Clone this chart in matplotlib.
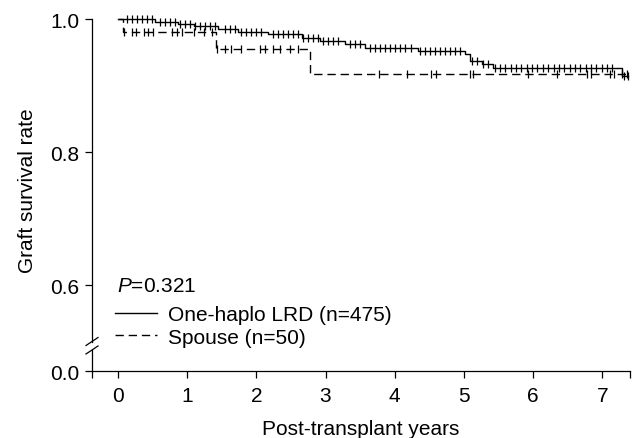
import numpy as np
import matplotlib
matplotlib.use("Agg")
import matplotlib.pyplot as plt

plt.rcParams['font.family'] = ['Liberation Sans', 'DejaVu Sans']
plt.rcParams['mathtext.fontset'] = 'custom'
plt.rcParams['mathtext.it'] = 'Liberation Sans:italic'
plt.rcParams['mathtext.rm'] = 'Liberation Sans'

# One-haplo LRD (n=475): event times (years) and survival after each event
lrd_event_t = [0.53, 0.87, 1.10, 1.45, 1.73, 2.17, 2.66, 2.92, 3.28, 3.57, 4.34, 5.01, 5.09, 5.26, 5.42, 7.28]
lrd_event_s = [0.996, 0.992, 0.989, 0.985, 0.980, 0.977, 0.971, 0.967, 0.962, 0.956, 0.952, 0.947, 0.937, 0.932, 0.927, 0.915]
lrd_end = 7.37
lrd_censor = [0.13, 0.20, 0.27, 0.35, 0.42, 0.49, 0.61, 0.68, 0.75, 0.82, 0.90, 0.97, 1.04, 1.11, 1.18,
              1.26, 1.33, 1.40, 1.55, 1.62, 1.69, 1.78, 1.85, 1.92, 1.99, 2.07, 2.24, 2.31, 2.38, 2.46,
              2.53, 2.60, 2.67, 2.75, 2.82, 2.89, 2.96, 3.03, 3.11, 3.18, 3.35, 3.42, 3.50, 3.64, 3.71,
              3.79, 3.86, 3.93, 4.00, 4.08, 4.15, 4.23, 4.36, 4.44, 4.51, 4.58, 4.65, 4.73, 4.80, 4.87,
              4.94, 5.12, 5.19, 5.27, 5.35, 5.45, 5.52, 5.59, 5.68, 5.75, 5.82, 5.91, 5.98, 6.05, 6.14,
              6.21, 6.30, 6.37, 6.45, 6.53, 6.60, 6.68, 6.76, 6.84, 6.91, 6.99, 7.07, 7.14, 7.31, 7.37]

# Spouse (n=50)
sp_event_t = [0.08, 1.42, 2.77]
sp_event_s = [0.980, 0.955, 0.917]
sp_end = 7.36
sp_censor = [0.09, 0.20, 0.26, 0.38, 0.43, 0.51, 0.78, 0.85, 0.92, 1.10, 1.24, 1.36,
             1.43, 1.55, 1.63, 1.78, 2.05, 2.12, 2.24, 2.34, 2.49, 2.60,
             3.77, 4.18, 4.52, 4.60, 5.09, 5.13, 5.92, 6.34, 6.78, 6.84, 7.11, 7.17, 7.28, 7.36]

labels = ['One-haplo LRD (n=475)', 'Spouse (n=50)']
p_text = r'$\it{P}$=0.321'
ytick_vals = [0.6, 0.8, 1.0]
ytick_labels = ['0.0', '0.6', '0.8', '1.0']
xticks = [0, 1, 2, 3, 4, 5, 6, 7]

xmin, xmax = -0.375, 7.4
ybot = 0.4707  # where "0.0" sits on the broken axis
fs = 15


def km_curve(ev_t, ev_s, end):
    t = np.r_[0.0, ev_t, end]
    s = np.r_[1.0, ev_s, ev_s[-1]]
    return t, s


def level_at(ev_t, ev_s, times):
    idx = np.searchsorted(ev_t, times, side='right')
    s = np.r_[1.0, ev_s]
    return s[idx]


fig = plt.figure(figsize=(6.38, 4.39), dpi=100)
ax = fig.add_axes([92 / 638, 1 - 372 / 439, 538 / 638, 352 / 439])

dash = (0, (6, 3.5))
t, s = km_curve(lrd_event_t, lrd_event_s, lrd_end)
ax.step(t, s, where='post', color='black', lw=1.0, clip_on=False, label=labels[0])
ax.plot(lrd_censor, level_at(lrd_event_t, lrd_event_s, lrd_censor), ls='none',
        marker='|', ms=6, mew=0.9, color='black', clip_on=False)

t, s = km_curve(sp_event_t, sp_event_s, sp_end)
ax.step(t, s, where='post', color='black', lw=1.0, ls=dash, clip_on=False, label=labels[1])
ax.plot(sp_censor, level_at(sp_event_t, sp_event_s, sp_censor), ls='none',
        marker='|', ms=6, mew=0.9, color='black', clip_on=False)

ax.set_xlim(xmin, xmax)
ax.set_ylim(ybot, 1.0)

for side in ['top', 'right', 'left']:
    ax.spines[side].set_visible(False)
ax.spines['bottom'].set_linewidth(0.9)

# broken y axis drawn by hand
yb1, yb2 = 0.0838, 0.0597
ax.plot([0, 0], [yb1, 1], transform=ax.transAxes, color='black', lw=0.9, clip_on=False)
ax.plot([0, 0], [0, yb2], transform=ax.transAxes, color='black', lw=0.9, clip_on=False)
dx, dy = 6 / 538, 4 / 352
for yc in [yb1, yb2]:
    ax.plot([-dx, dx], [yc - dy, yc + dy], transform=ax.transAxes, color='black', lw=0.9, clip_on=False)

ax.set_yticks([ybot] + ytick_vals)
ax.set_yticklabels(ytick_labels)
ax.set_xticks(xticks)
ax.set_xticks([xmin, xmax], minor=True)
ax.tick_params(axis='both', which='both', direction='out', length=5, width=0.9, labelsize=fs, pad=4)
ax.tick_params(axis='x', which='both', pad=6)

ax.set_xlabel('Post-transplant years', fontsize=fs)
ax.set_ylabel('Graft survival rate', fontsize=fs)
ax.xaxis.set_label_coords(0.5, -0.135)
ax.yaxis.set_label_coords(-0.102, 0.515)

ax.text(0.0465, 0.244, p_text, transform=ax.transAxes, fontsize=fs, va='center', ha='left')
ax.legend(loc='center left', bbox_to_anchor=(0.043, 0.128), frameon=False, fontsize=fs,
          handlelength=2.0, handletextpad=0.53, borderpad=0, borderaxespad=0, labelspacing=0.15)

fig.savefig('out.png', dpi=100)
